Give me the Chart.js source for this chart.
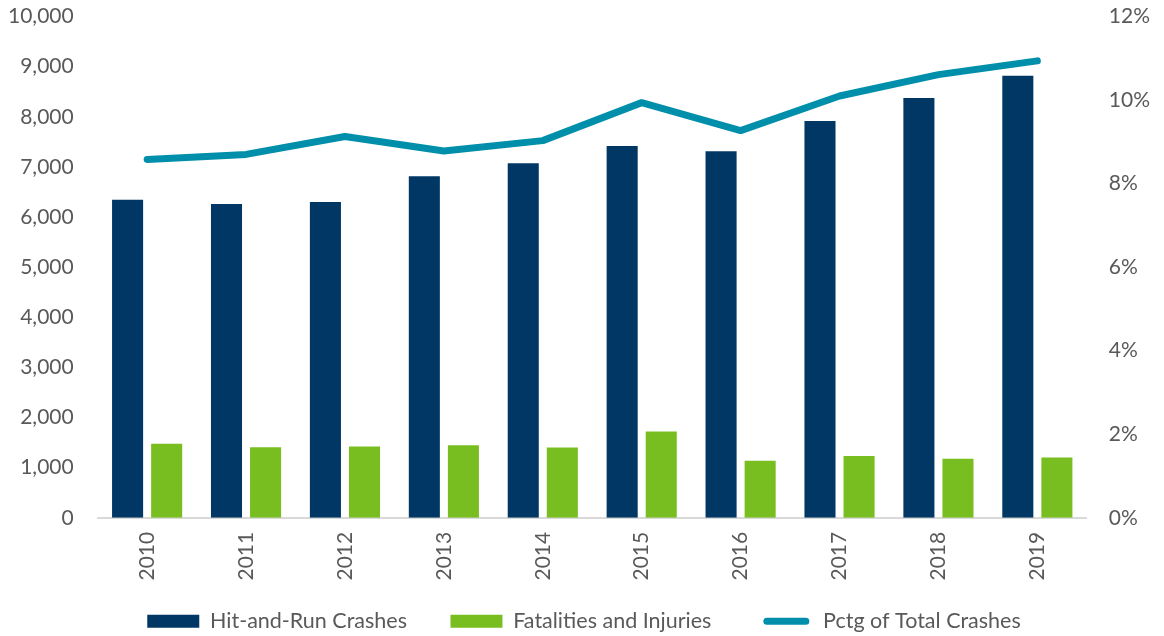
<!DOCTYPE html>
<html>
<head>
<meta charset="utf-8">
<script src="https://cdn.jsdelivr.net/npm/chart.js@4.4.1/dist/chart.umd.min.js"></script>
<style>
  body { margin: 0; background: #fff; }
  #wrap { width: 1164px; height: 636px; }
</style>
</head>
<body>
<div id="wrap"><canvas id="grafico" width="1164" height="636"></canvas></div>
<script>
const anos = ["2010", "2011", "2012", "2013", "2014", "2015", "2016", "2017", "2018", "2019"];
const hitAndRun = [6345, 6260, 6300, 6815, 7075, 7420, 7315, 7915, 8375, 8820];
const fatalidades = [1475, 1405, 1420, 1445, 1400, 1720, 1140, 1235, 1180, 1205];
const pctgTotal = [8.58, 8.70, 9.13, 8.78, 9.03, 9.94, 9.27, 10.10, 10.61, 10.94];
const ticksEsquerda = [0, 1000, 2000, 3000, 4000, 5000, 6000, 7000, 8000, 9000, 10000];
const ticksDireita = [0, 2, 4, 6, 8, 10, 12];

const navy = '#003764';
const verde = '#78BE21';
const teal = '#008FAA';
const cinza = '#595959';

Chart.defaults.font.family = 'Lato, "Open Sans", sans-serif';
Chart.defaults.font.size = 21;
Chart.defaults.color = cinza;

// empurra a legenda um pouco para a direita
const legendaShift = {
    id: 'legendaShift',
    beforeDraw(chart) {
        if (chart.legend && !chart.legend._shifted) {
            chart.legend.left += 5;
            chart.legend.right += 5;
            chart.legend._shifted = true;
        }
    }
};

const createChart = (id) => {
    const ctx = document.getElementById(id);
    new Chart(ctx, {
        type: 'bar',
        data: {
            labels: anos,
            datasets: [{
                label: 'Hit-and-Run Crashes',
                data: hitAndRun,
                backgroundColor: navy,
                yAxisID: 'y',
                order: 1
            }, {
                label: 'Fatalities and Injuries',
                data: fatalidades,
                backgroundColor: verde,
                yAxisID: 'y',
                order: 1
            }, {
                label: 'Pctg of Total Crashes',
                data: pctgTotal,
                type: 'line',
                borderColor: teal,
                backgroundColor: teal,
                borderWidth: 7,
                pointRadius: 0,
                tension: 0,
                borderCapStyle: 'round',
                borderJoinStyle: 'round',
                yAxisID: 'y1',
                order: 0
            }]
        },
        plugins: [legendaShift],
        options: {
            responsive: false,
            animation: false,
            categoryPercentage: 0.79,
            barPercentage: 0.795,
            layout: {
                padding: { top: 0, left: 4, right: 10, bottom: -6 }
            },
            plugins: {
                tooltip: { enabled: false },
                legend: {
                    position: 'bottom',
                    labels: {
                        boxWidth: 52,
                        boxHeight: 13,
                        padding: 16,
                        color: cinza,
                        font: { size: 21.5 },
                        sort: (a, b) => a.datasetIndex - b.datasetIndex,
                        generateLabels: (chart) => {
                            const itens = Chart.defaults.plugins.legend.labels.generateLabels(chart);
                            return itens.map((item) => {
                                if (item.datasetIndex === 0) {
                                    item.text = item.text + '     ';
                                    item.lineWidth = 0;
                                } else if (item.datasetIndex === 1) {
                                    item.text = item.text + '      ';
                                    item.lineWidth = 0;
                                } else {
                                    item.fillStyle = teal;
                                    item.strokeStyle = '#ffffff';
                                    item.lineWidth = 6;
                                    item.borderRadius = 6.5;
                                }
                                return item;
                            });
                        }
                    }
                }
            },
            scales: {
                x: {
                    offset: true,
                    grid: { display: false, drawTicks: false },
                    border: { display: true, color: '#D9D9D9', width: 2 },
                    ticks: {
                        minRotation: 90,
                        maxRotation: 90,
                        padding: 14,
                        color: cinza
                    }
                },
                y: {
                    position: 'left',
                    min: 0,
                    max: 10000,
                    grid: { display: false, drawTicks: true, tickLength: 20 },
                    border: { display: false },
                    afterBuildTicks: (axis) => {
                        axis.ticks = ticksEsquerda.map(v => ({ value: v }));
                    },
                    ticks: {
                        padding: 4,
                        color: cinza,
                        callback: (v) => v.toLocaleString('en-US')
                    }
                },
                y1: {
                    position: 'right',
                    min: 0,
                    max: 12,
                    grid: { display: false, drawTicks: true, tickLength: 18 },
                    border: { display: false },
                    afterBuildTicks: (axis) => {
                        axis.ticks = ticksDireita.map(v => ({ value: v }));
                    },
                    ticks: {
                        padding: 4,
                        color: cinza,
                        callback: (v) => v + '%'
                    }
                }
            }
        }
    });
}

createChart('grafico');
</script>
</body>
</html>
